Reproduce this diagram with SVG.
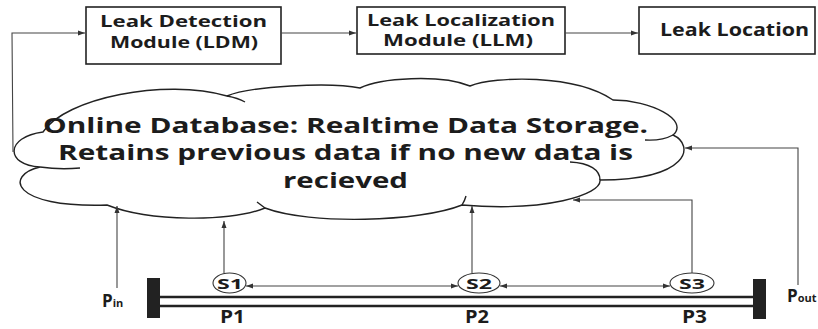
<svg xmlns="http://www.w3.org/2000/svg" width="818" height="329" viewBox="0 0 818 329">
<defs>
<marker id="ah" markerUnits="userSpaceOnUse" markerWidth="8" markerHeight="6" refX="7" refY="3" orient="auto-start-reverse"><path d="M0,0.5 L7,3 L0,5.5 z" fill="#333"/></marker>
<style>
.box{fill:#fff;stroke:#222;stroke-width:1.6}
.t{font-family:"Open Sans","Liberation Sans",sans-serif;font-weight:700;fill:#1c1c1c}
.c{fill:none;stroke:#444;stroke-width:1.1}
.cl{fill:#fff;stroke:#222;stroke-width:1.4}
.in{fill:none;stroke:#222;stroke-width:1.4}
.pipe{stroke:#222;stroke-width:2.6}
.bar{fill:#222}
.sen{fill:#fff;stroke:#333;stroke-width:1.1}
</style>
</defs>
<g id="cloud">
<path class="cl" d="M40,167 C5,165 5,137 43,132 C65,98 165,78 227,96 C250,86 330,82 360,88 C380,78 440,74 470,86 C495,76 575,74 613,100 C650,100 690,120 673,135 C695,145 690,180 600,180 C602,195 545,212 462,205 C420,222 310,225 265,208 C230,222 150,222 107,205 C10,208 5,175 40,167 Z"/>
<path class="in" d="M40,167 Q60,170 80,168 M227,96 Q238,98 245,102 M673,135 Q662,141 645,140 M600,180 C600,170 590,163 570,162 M462,205 Q465,200 466,196 M265,208 Q261,205 257,202"/>
<text class="t" font-size="21" x="43" y="133" textLength="605" lengthAdjust="spacingAndGlyphs">Online Database: Realtime Data Storage.</text>
<text class="t" font-size="21" x="58" y="160" textLength="575" lengthAdjust="spacingAndGlyphs">Retains previous data if no new data is</text>
<text class="t" font-size="21" x="283" y="188" textLength="125" lengthAdjust="spacingAndGlyphs">recieved</text>
</g>
<g id="ldm">
<rect class="box" x="86" y="7" width="195" height="57"/>
<text class="t" font-size="16.5" x="100" y="27" textLength="167" lengthAdjust="spacingAndGlyphs">Leak Detection</text>
<text class="t" font-size="16.5" x="110" y="48" textLength="148" lengthAdjust="spacingAndGlyphs">Module (LDM)</text>
</g>
<g id="llm">
<rect class="box" x="357" y="7" width="208" height="47"/>
<text class="t" font-size="16" x="367" y="26" textLength="188" lengthAdjust="spacingAndGlyphs">Leak Localization</text>
<text class="t" font-size="16" x="383" y="46" textLength="150" lengthAdjust="spacingAndGlyphs">Module (LLM)</text>
</g>
<g id="location">
<rect class="box" x="639" y="7" width="176" height="47"/>
<text class="t" font-size="17" x="660" y="36" textLength="149" lengthAdjust="spacingAndGlyphs">Leak Location</text>
</g>
<g id="pipe">
<line class="pipe" x1="160" y1="297" x2="753" y2="297"/>
<line class="pipe" x1="160" y1="306" x2="753" y2="306"/>
<rect class="bar" x="147" y="278" width="13" height="40"/>
<rect class="bar" x="753" y="279" width="13" height="40"/>
<text class="t" font-size="17" x="220" y="323" textLength="25" lengthAdjust="spacingAndGlyphs">P1</text>
<text class="t" font-size="17" x="465" y="323" textLength="24" lengthAdjust="spacingAndGlyphs">P2</text>
<text class="t" font-size="17" x="682" y="323" textLength="25" lengthAdjust="spacingAndGlyphs">P3</text>
</g>
<g id="pin">
<text class="t" font-size="17" x="102" y="307">P<tspan font-size="11">in</tspan></text>
</g>
<g id="pout">
<text class="t" font-size="17" x="787" y="302">P<tspan font-size="11">out</tspan></text>
</g>
<g id="s1">
<ellipse class="sen" cx="229.5" cy="283" rx="16.5" ry="10"/>
<text class="t" font-size="15" x="217" y="289" textLength="26" lengthAdjust="spacingAndGlyphs">S1</text>
</g>
<g id="s2">
<ellipse class="sen" cx="479" cy="283" rx="21" ry="10"/>
<text class="t" font-size="15" x="466" y="289" textLength="26" lengthAdjust="spacingAndGlyphs">S2</text>
</g>
<g id="s3">
<ellipse class="sen" cx="692" cy="283" rx="22" ry="10"/>
<text class="t" font-size="15" x="679" y="289" textLength="26" lengthAdjust="spacingAndGlyphs">S3</text>
</g>
<g id="connectors">
<polyline class="c" points="13,152 12,33 85,33" marker-end="url(#ah)"/>
<line class="c" x1="281" y1="33" x2="356" y2="33" marker-end="url(#ah)"/>
<line class="c" x1="565" y1="33" x2="638" y2="33" marker-end="url(#ah)"/>
<line class="c" x1="246" y1="286" x2="458" y2="286" marker-start="url(#ah)" marker-end="url(#ah)"/>
<line class="c" x1="500" y1="286" x2="670" y2="286" marker-start="url(#ah)" marker-end="url(#ah)"/>
<line class="c" x1="117" y1="288" x2="117" y2="206" marker-end="url(#ah)"/>
<line class="c" x1="224" y1="273" x2="224" y2="221" marker-end="url(#ah)"/>
<line class="c" x1="472" y1="273" x2="472" y2="206" marker-end="url(#ah)"/>
<polyline class="c" points="692,273 692,200 573,200" marker-end="url(#ah)"/>
<polyline class="c" points="798,285 798,148 685,148" marker-end="url(#ah)"/>
</g>
</svg>
